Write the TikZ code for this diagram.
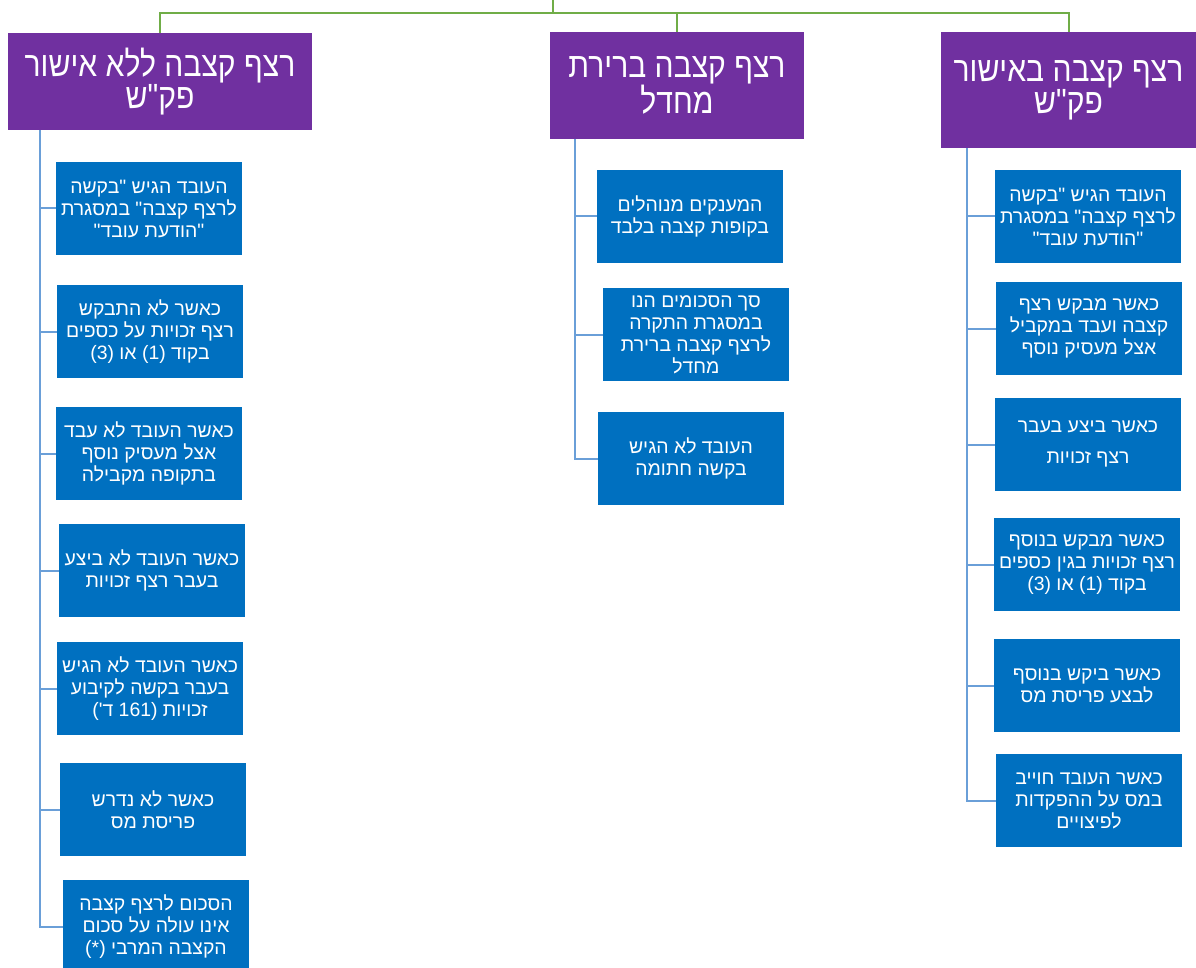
\documentclass[tikz,border=0pt]{standalone}
\usepackage{fontspec}
\TeXXeTstate=1
\newfontfamily\heb[Script=Hebrew]{Liberation Sans}
\newfontfamily\hebtitle[Script=Hebrew,FakeStretch=0.86]{Liberation Sans}
\newcommand{\hl}[1]{\beginR #1\endR}
\definecolor{cpurple}{HTML}{7030A0}
\definecolor{cblue}{HTML}{0070C0}
\definecolor{cgreen}{HTML}{70AD47}
\definecolor{clink}{HTML}{6A9FD8}
\tikzset{
  titlebox/.style={rectangle, fill=cpurple, text=white, inner sep=0pt, align=center,
    font=\fontsize{35}{32}\selectfont\hebtitle},
  itembox/.style={rectangle, fill=cblue, text=white, inner sep=0pt, align=center,
    minimum width=186pt, minimum height=93pt, font=\fontsize{19.4}{22}\selectfont\heb},
  topline/.style={draw=cgreen, line width=2pt},
  subline/.style={draw=clink, line width=2pt},
}
\begin{document}
\begin{tikzpicture}[x=1pt,y=-1pt]
\useasboundingbox (0,0) rectangle (1196,968);
% titles
\node[titlebox, minimum width=304pt, minimum height=97pt] (tL) at (160,81.5)
  {\hl{רצף קצבה ללא אישור}\\\hl{פק"ש}};
\node[titlebox, minimum width=254pt, minimum height=107pt] (tM) at (677,85.5)
  {\hl{רצף קצבה ברירת}\\\hl{מחדל}};
\node[titlebox, minimum width=255pt, minimum height=116pt] (tR) at (1068.5,90)
  {\hl{רצף קצבה באישור}\\\hl{פק"ש}};
% top connectors
\coordinate (root) at (553,0);
\coordinate (bus) at (553,13);
\draw[topline] (root) -- (bus);
\draw[topline] (bus) -| (tL.north);
\draw[topline] (bus) -| (tM.north);
\draw[topline] (bus) -| (tR.north);
% left column
\node[itembox] (l1) at (149,208.5) {\hl{העובד הגיש "בקשה}\\\hl{לרצף קצבה" במסגרת}\\\hl{"הודעת עובד"}};
\node[itembox] (l2) at (150,331.5) {\hl{כאשר לא התבקש}\\\hl{רצף זכויות על כספים}\\\hl{בקוד (1) או (3)}};
\node[itembox] (l3) at (149,453.5) {\hl{כאשר העובד לא עבד}\\\hl{אצל מעסיק נוסף}\\\hl{בתקופה מקבילה}};
\node[itembox] (l4) at (152,570.5) {\hl{כאשר העובד לא ביצע}\\\hl{בעבר רצף זכויות}};
\node[itembox] (l5) at (150,688.5) {\hl{כאשר העובד לא הגיש}\\\hl{בעבר בקשה לקיבוע}\\\hl{זכויות (161 ד')}};
\node[itembox] (l6) at (153,809.5) {\hl{כאשר לא נדרש}\\\hl{פריסת מס}};
\node[itembox] (l7) at (156,926.5) {\hl{הסכום לרצף קצבה}\\\hl{אינו עולה על סכום}\\\hl{הקצבה המרבי (*)}};
\foreach \n in {l1,l2,l3,l4,l5,l6,l7}
  \draw[subline] ([xshift=32pt]tL.south west) |- (\n.west);
% middle column
\node[itembox] (m1) at (690,216.5) {\hl{המענקים מנוהלים}\\\hl{בקופות קצבה בלבד}};
\node[itembox] (m2) at (696,334.5) {\hl{סך הסכומים הנו}\\\hl{במסגרת התקרה}\\\hl{לרצף קצבה ברירת}\\\hl{מחדל}};
\node[itembox] (m3) at (691,458.5) {\hl{העובד לא הגיש}\\\hl{בקשה חתומה}};
\foreach \n in {m1,m2,m3}
  \draw[subline] ([xshift=25pt]tM.south west) |- (\n.west);
% right column
\node[itembox] (r1) at (1088,216.5) {\hl{העובד הגיש "בקשה}\\\hl{לרצף קצבה" במסגרת}\\\hl{"הודעת עובד"}};
\node[itembox] (r2) at (1089,328.5) {\hl{כאשר מבקש רצף}\\\hl{קצבה ועבד במקביל}\\\hl{אצל מעסיק נוסף}};
\node[itembox] (r3) at (1088,444.5) {\hl{כאשר ביצע בעבר}\\[9pt]\hl{רצף זכויות}};
\node[itembox] (r4) at (1087,564.5) {\hl{כאשר מבקש בנוסף}\\\hl{רצף זכויות בגין כספים}\\\hl{בקוד (1) או (3)}};
\node[itembox] (r5) at (1087,685.5) {\hl{כאשר ביקש בנוסף}\\\hl{לבצע פריסת מס}};
\node[itembox] (r6) at (1089,800.5) {\hl{כאשר העובד חוייב}\\\hl{במס על ההפקדות}\\\hl{לפיצויים}};
\foreach \n in {r1,r2,r3,r4,r5,r6}
  \draw[subline] ([xshift=26pt]tR.south west) |- (\n.west);
\end{tikzpicture}
\end{document}
